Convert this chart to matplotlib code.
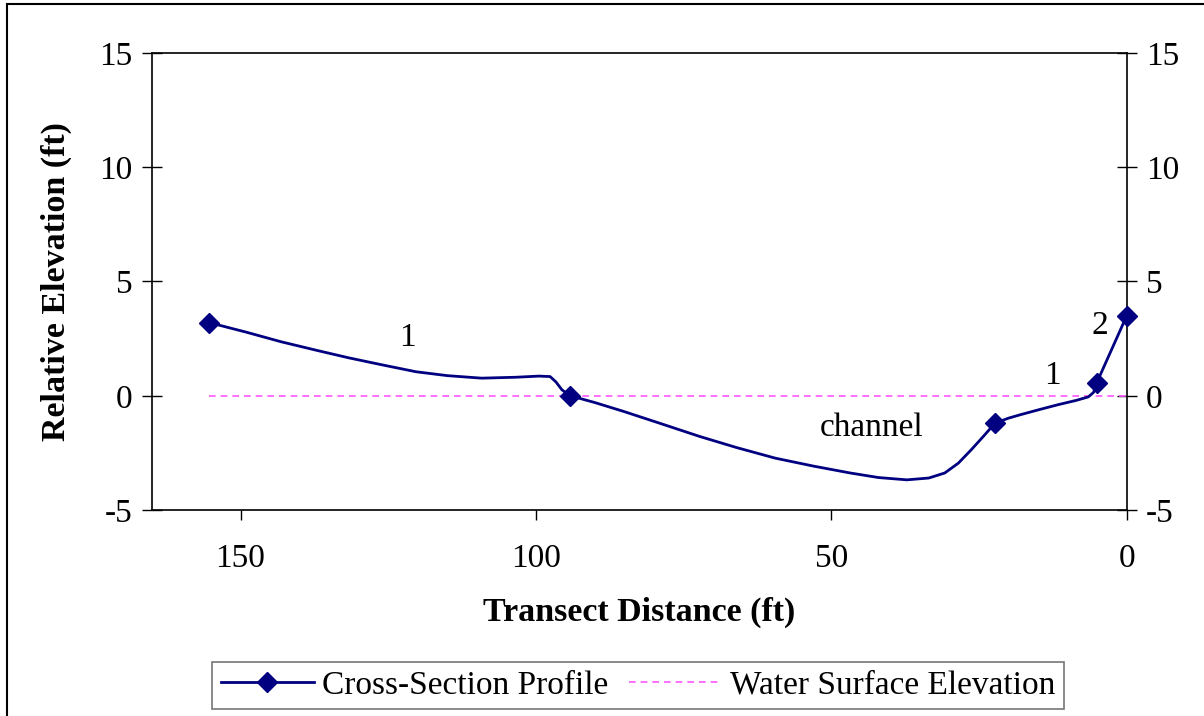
import matplotlib.pyplot as plt
from matplotlib.patches import Rectangle

plt.rcParams['font.family'] = ['Liberation Serif', 'DejaVu Serif']
plt.rcParams['axes.unicode_minus'] = False

# cross-section profile (distance from right bank, ft)
profile_dist = [155.3, 149, 143.1, 137, 131.7, 126, 120.3, 115, 109.2, 103.4, 99.5, 97.6,
                96.6, 95.6, 94.2, 90, 85.1, 78.5, 72.3, 66, 59.5, 53, 46.8, 42, 37.2,
                33.5, 30.8, 28.5, 26.3, 24.2, 22.3, 20, 18.0, 15, 11.6, 8.5, 6.5, 5.6,
                5.1, 0]
profile_elev = [3.2, 2.78, 2.36, 1.98, 1.66, 1.35, 1.05, 0.88, 0.77, 0.81, 0.86, 0.84,
                0.6, 0.26, 0.0, -0.3, -0.69, -1.25, -1.78, -2.27, -2.73, -3.08, -3.38,
                -3.58, -3.68, -3.6, -3.38, -2.95, -2.36, -1.76, -1.2, -0.98, -0.83,
                -0.62, -0.39, -0.2, -0.05, 0.15, 0.55, 3.5]
surveyed = [0, 14, 30, 38, 39]   # points carrying a marker

water_dist = [155.3, 0]
water_elev = [0, 0]

notes = ['1', 'channel', '1', '2']
note_x = [121.7, 43.2, 12.5, 4.6]
note_y = [2.54, -1.4, 0.88, 3.06]

fig = plt.figure(figsize=(12.04, 7.16), dpi=100)
ax = fig.add_axes([0.1262, 0.2877, 0.8096, 0.6383])

ax.plot(profile_dist, profile_elev, color='#000080', lw=2.0, marker='D', markersize=10,
        markevery=surveyed, label='Cross-Section Profile', clip_on=False, zorder=3,
        solid_joinstyle='round')
ax.plot(water_dist, water_elev, color='#ff55ff', lw=1.2, ls=(0, (4, 3)),
        label='Water Surface Elevation')

for t, x, y in zip(notes, note_x, note_y):
    ax.text(x, y, t, fontsize=24, ha='center', va='center')

ax.set_xlim(165, 0)
ax.set_ylim(-5, 15)
ax.set_xticks([150, 100, 50, 0])
ax.set_yticks([-5, 0, 5, 10, 15])
ax.tick_params(axis='y', direction='inout', length=14, width=1, labelsize=24,
               right=True, labelright=True, pad=7)
ax.tick_params(axis='x', direction='out', length=7, width=1, labelsize=24, pad=17)
for s in ax.spines.values():
    s.set_linewidth(1.2)

ax.set_xlabel('Transect Distance (ft)', fontsize=24.5, fontweight='bold')
ax.xaxis.set_label_coords(0.5, -0.223)
ax.xaxis.label.set_va('center')
ax.set_ylabel('Relative Elevation (ft)', fontsize=24.5, fontweight='bold')
ax.yaxis.set_label_coords(-0.098, 0.5)
ax.yaxis.label.set_va('center')

leg = fig.legend(loc='center', bbox_to_anchor=(0.530, 0.0426), ncol=2, fontsize=24,
                 frameon=True, fancybox=False, edgecolor='#555555', borderpad=0.25,
                 handlelength=2.8, columnspacing=0.6, handletextpad=0.25,
                 borderaxespad=0)
leg.get_frame().set_linewidth(1.2)

fig.patches.append(Rectangle((0.0058, -0.05), 1.2, 0.9944 + 0.05, transform=fig.transFigure,
                             fill=False, lw=1.5, edgecolor='black'))

fig.savefig('out.png', dpi=100)
